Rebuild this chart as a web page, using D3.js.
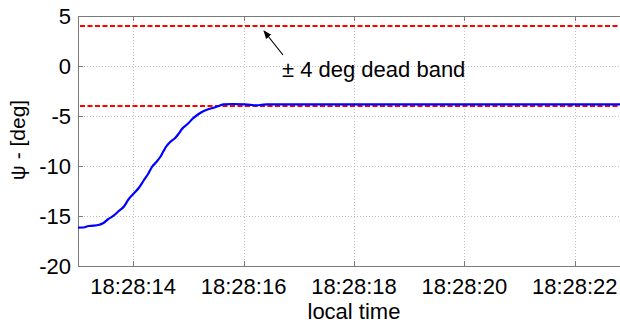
<!DOCTYPE html>
<html><head><meta charset="utf-8">
<script src="https://cdn.jsdelivr.net/npm/d3@7"></script>
<style>body{margin:0;background:#fff}svg{display:block;font-family:Arial,"Liberation Sans",sans-serif}</style>
</head><body><svg id="c" width="620" height="325"></svg>
<script>
// seconds after 18:28:00
const times = [13.00,13.10,13.19,13.28,13.37,13.46,13.55,13.62,13.74,13.83,13.92,14.01,14.10,14.19,14.27,14.34,14.42,14.49,14.55,14.61,14.67,14.76,14.82,14.88,15.00,15.08,15.16,15.28,15.37,15.46,15.55,15.64,15.80,16.01,16.12,16.24,16.33,16.42,17.5,20,22.85];
const psi   = [-16.17,-16.15,-16.0,-15.97,-15.9,-15.7,-15.3,-15.07,-14.5,-14.07,-13.3,-12.75,-12.2,-11.45,-10.8,-10.1,-9.6,-9.1,-8.5,-7.97,-7.6,-7.2,-6.8,-6.33,-5.73,-5.25,-4.9,-4.5,-4.3,-4.17,-4.0,-3.83,-3.8,-3.83,-3.88,-3.93,-3.88,-3.83,-3.84,-3.84,-3.84];
const deadBand = [4,-4];
const xTicks = [14,16,18,20,22];
const xTickLabels = ["18:28:14","18:28:16","18:28:18","18:28:20","18:28:22"];
const yTicks = [5,0,-5,-10,-15,-20];

const svg = d3.select("#c");
const L=78, T=16, B=266, W=620;
const x = d3.scaleLinear().domain([13.0, 22.82]).range([L, W]);
const y = d3.scaleLinear().domain([-20,5]).range([B,T]);

const g = svg.append("g");
// grid
g.selectAll(".gx").data(xTicks).join("line")
 .attr("x1",d=>Math.round(x(d))+0.5).attr("x2",d=>Math.round(x(d))+0.5).attr("y1",T).attr("y2",B)
 .attr("stroke","#c0c0c0").attr("stroke-dasharray","1,2");
g.selectAll(".gy").data(yTicks.filter(d=>d>-20&&d<5)).join("line")
 .attr("x1",L).attr("x2",W).attr("y1",d=>y(d)+0.5).attr("y2",d=>y(d)+0.5)
 .attr("stroke","#c0c0c0").attr("stroke-dasharray","1,2");

// axes box
const ax = "#7a7a7a";
g.append("line").attr("x1",L).attr("x2",W).attr("y1",T+0.5).attr("y2",T+0.5).attr("stroke",ax);
g.append("line").attr("x1",L).attr("x2",W).attr("y1",B+0.5).attr("y2",B+0.5).attr("stroke",ax);
g.append("line").attr("x1",L+0.5).attr("x2",L+0.5).attr("y1",T).attr("y2",B+1).attr("stroke",ax);
// inward ticks
xTicks.forEach(d=>{
  const xp = Math.round(x(d))+0.5;
  g.append("line").attr("x1",xp).attr("x2",xp).attr("y1",B).attr("y2",B-5).attr("stroke",ax);
  g.append("line").attr("x1",xp).attr("x2",xp).attr("y1",T).attr("y2",T+5).attr("stroke",ax);
});
yTicks.forEach(d=>{
  g.append("line").attr("x1",L).attr("x2",L+5).attr("y1",y(d)+0.5).attr("y2",y(d)+0.5).attr("stroke",ax);
});

// tick labels
g.selectAll(".xl").data(xTicks).join("text")
 .attr("x",d=>x(d)).attr("y",294).attr("text-anchor","middle")
 .attr("font-size",22).attr("fill","#000").text((d,i)=>xTickLabels[i]);
g.selectAll(".yl").data(yTicks).join("text")
 .attr("x",71).attr("y",d=>y(d)+8).attr("text-anchor","end")
 .attr("font-size",22).attr("fill","#000").text(d=>d);

// axis titles
svg.append("text").attr("x",x(18)).attr("y",319).attr("text-anchor","middle")
 .attr("font-size",22).text("local time");
svg.append("text").attr("transform","translate(25,140) rotate(-90)").attr("text-anchor","middle")
 .attr("font-size",21).text("ψ - [deg]");

// clip
svg.append("clipPath").attr("id","clip").append("rect").attr("x",L).attr("y",T).attr("width",W-L).attr("height",B-T);
const pg = svg.append("g").attr("clip-path","url(#clip)");

// dead band lines
pg.selectAll(".db").data(deadBand).join("line")
 .attr("x1",L+2).attr("x2",W).attr("y1",d=>y(d)).attr("y2",d=>y(d))
 .attr("stroke","#ff0000").attr("stroke-width",2).attr("stroke-dasharray","5,2.5");

// data line
const line = d3.line().x((d,i)=>x(times[i])).y(d=>y(d)).curve(d3.curveMonotoneX);
pg.append("path").attr("d",line(psi)).attr("fill","none").attr("stroke","#0000ff").attr("stroke-width",2.2);

// annotation
svg.append("defs").append("marker").attr("id","ah").attr("viewBox","0 0 10 10").attr("refX",9).attr("refY",5)
 .attr("markerWidth",7).attr("markerHeight",7).attr("orient","auto")
 .append("path").attr("d","M0,1 L10,5 L0,9 Z").attr("fill","#000");
svg.append("line").attr("x1",283).attr("y1",55).attr("x2",264).attr("y2",31)
 .attr("stroke","#000").attr("stroke-width",1.2).attr("marker-end","url(#ah)");
svg.append("text").attr("x",282).attr("y",77).attr("font-size",22).text("± 4 deg dead band");
</script></body></html>
